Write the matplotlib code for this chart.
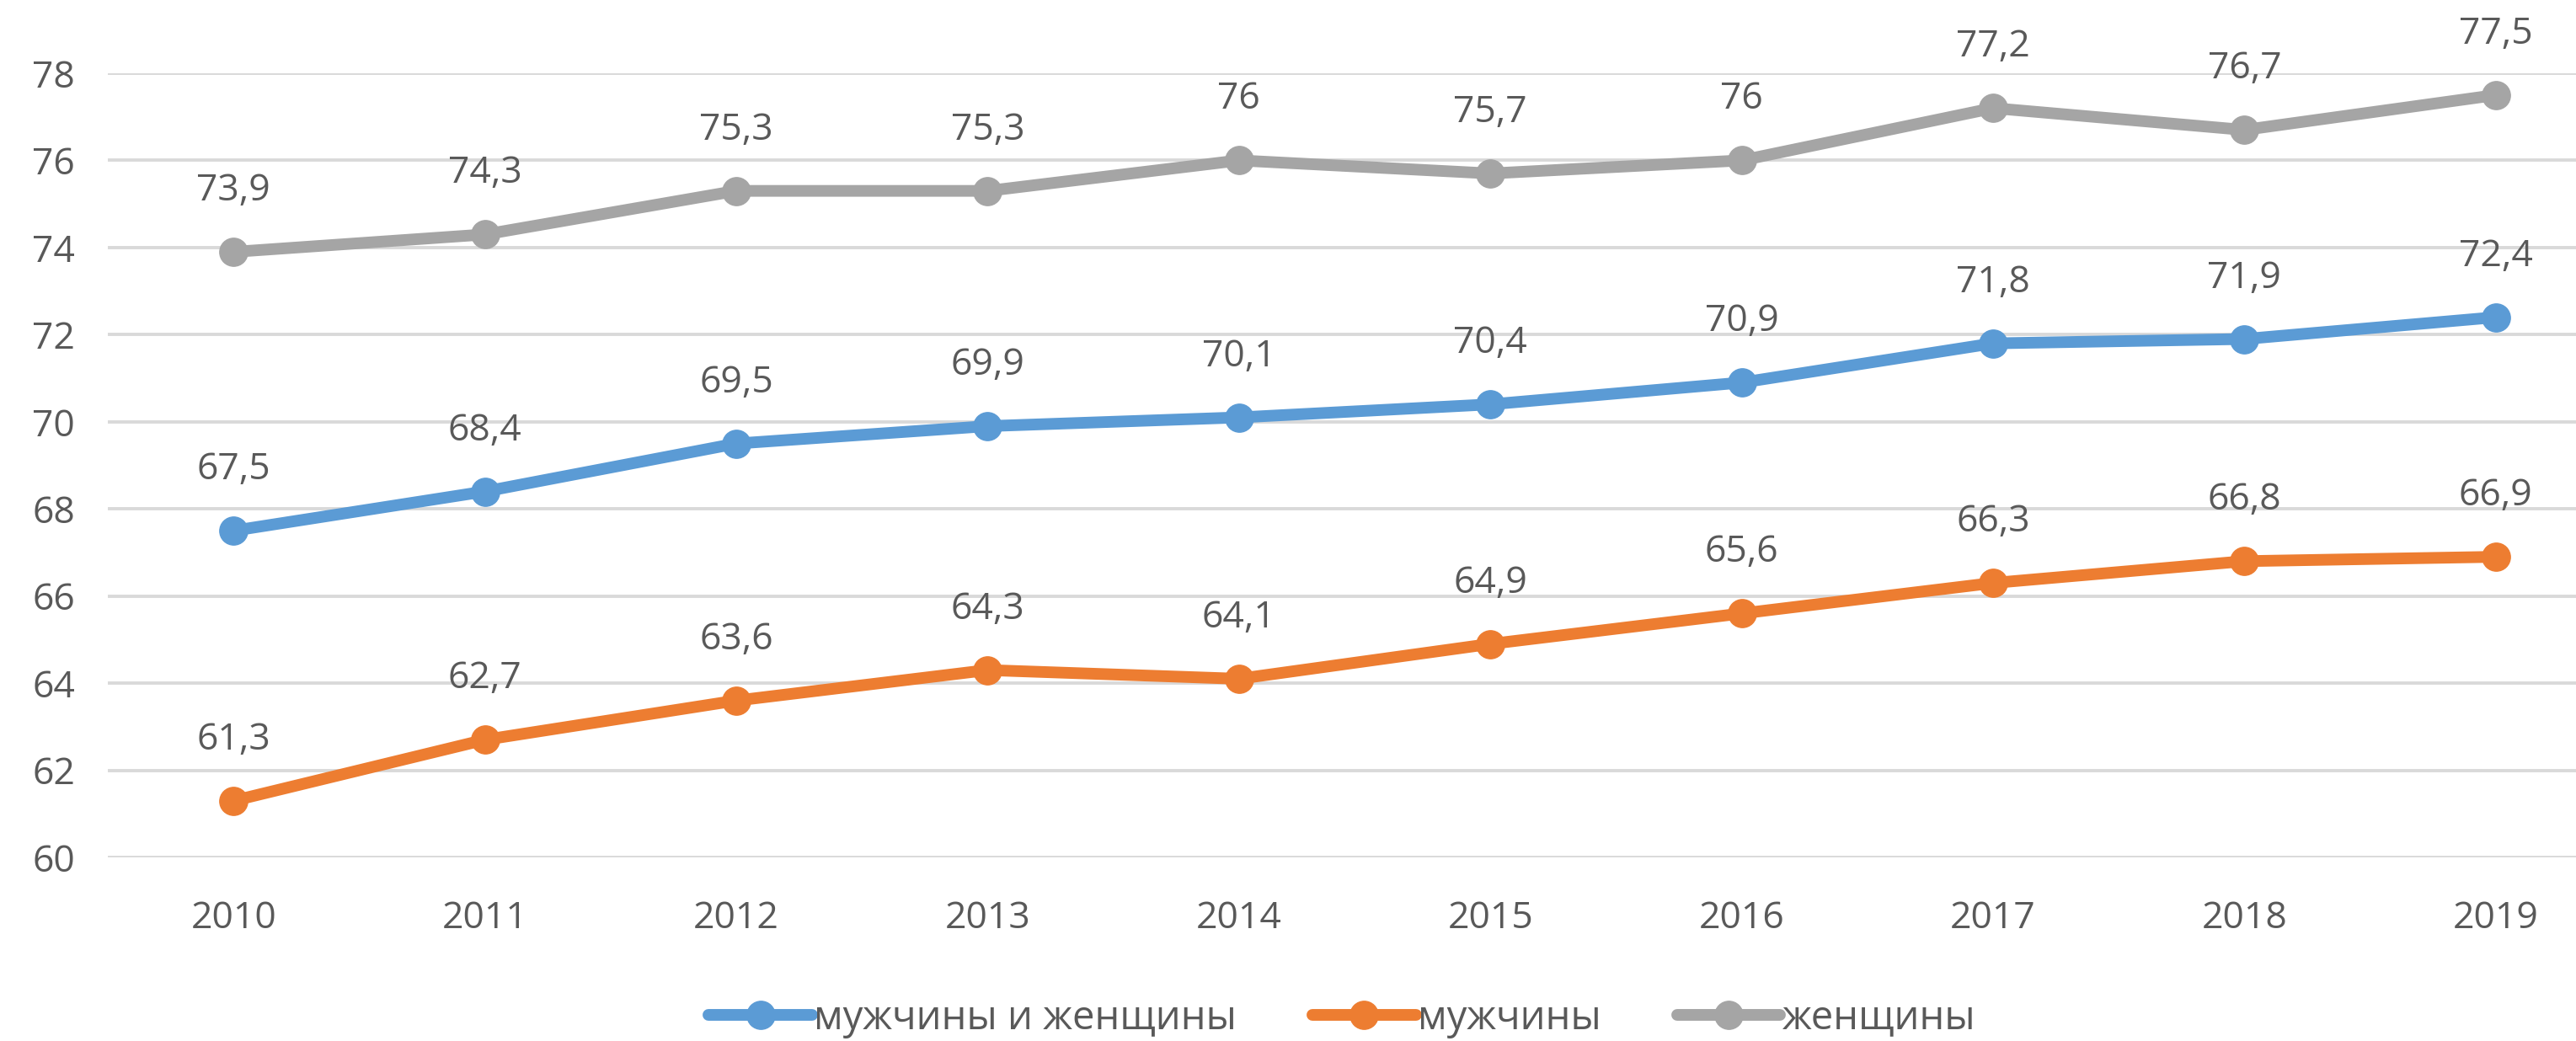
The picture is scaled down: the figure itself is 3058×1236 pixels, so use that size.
import matplotlib.pyplot as plt

# Data
years = ['2010', '2011', '2012', '2013', '2014', '2015', '2016', '2017', '2018', '2019']
both = [67.5, 68.4, 69.5, 69.9, 70.1, 70.4, 70.9, 71.8, 71.9, 72.4]
men = [61.3, 62.7, 63.6, 64.3, 64.1, 64.9, 65.6, 66.3, 66.8, 66.9]
women = [73.9, 74.3, 75.3, 75.3, 76.0, 75.7, 76.0, 77.2, 76.7, 77.5]
series_names = ['мужчины и женщины', 'мужчины', 'женщины']
y_ticks = [60, 62, 64, 66, 68, 70, 72, 74, 76, 78]

colors = ['#5B9BD5', '#ED7D31', '#A5A5A5']
text_color = '#595959'

plt.rcParams['font.family'] = ['Open Sans', 'DejaVu Sans']

fig = plt.figure(figsize=(30.58, 12.36), dpi=100)
ax = fig.add_axes([128 / 3058, 1 - 1018 / 1236, 2984 / 3058, (1018 - 87) / 1236])

x = range(len(years))
for vals, name, col in zip([both, men, women], series_names, colors):
    ax.plot(x, vals, color=col, lw=10, marker='o', markersize=24,
            solid_capstyle='round', label=name, zorder=3)
    for xi, v in zip(x, vals):
        ax.annotate(f'{v:g}'.replace('.', ','), (xi, v), xytext=(0, 52),
                    textcoords='offset points', ha='center', va='center',
                    fontsize=32, color=text_color, annotation_clip=False)

ax.set_xlim(-0.5, 9.5)
ax.set_ylim(60, 78)
ax.set_yticks(y_ticks)
ax.set_xticks(list(x))
ax.set_xticklabels(years)
ax.grid(axis='y', color='#D9D9D9', lw=2.8, zorder=0)
ax.tick_params(axis='both', length=0, labelsize=32, labelcolor=text_color)
ax.tick_params(axis='y', pad=28)
ax.tick_params(axis='x', pad=36)
for s in ax.spines.values():
    s.set_visible(False)

fig.legend(loc='center', bbox_to_anchor=(0.521, 0.022), ncol=3, frameon=False,
           fontsize=34, handlelength=2.6, handletextpad=0.05, columnspacing=1.9,
           labelcolor=text_color)

fig.savefig('out.png', dpi=100)
